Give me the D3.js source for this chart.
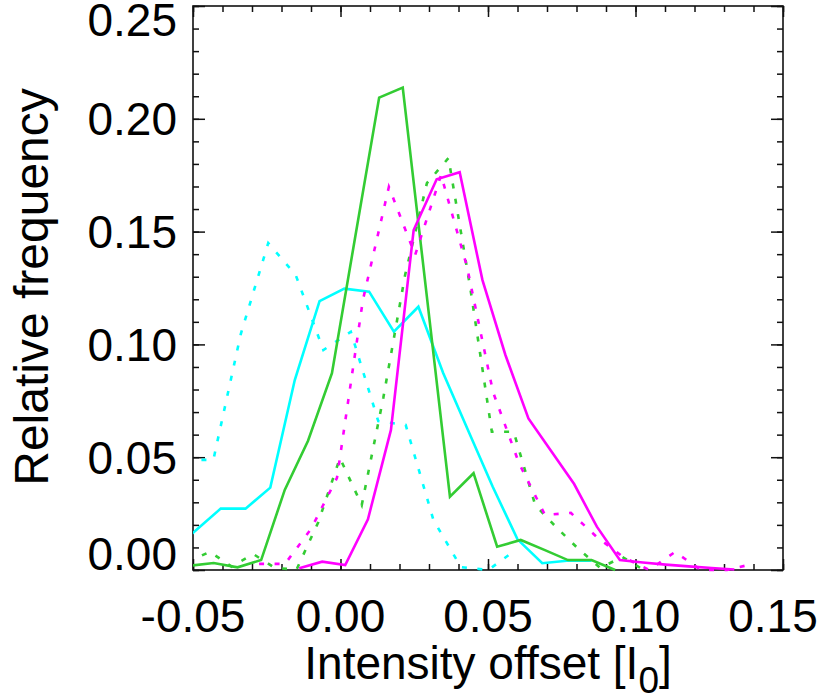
<!DOCTYPE html>
<html lang="en">
<head>
<meta charset="UTF-8">
<title>Relative frequency vs intensity offset</title>
<script src="https://cdn.jsdelivr.net/npm/d3@7"></script>
<style>
  body { margin: 0; background: #fff; }
  text { font-family: "Liberation Sans", Arial, Helvetica, sans-serif; fill: #000; }
</style>
</head>
<body>
<script>
const width = 828, height = 698;
const plotLeft = 193, plotRight = 783, plotTop = 6, plotBottom = 570;

// tick values and labels
const xTicks = [-0.05, 0.00, 0.05, 0.10, 0.15];
const xTickLabels = ["-0.05", "0.00", "0.05", "0.10", "0.15"];
const yTicks = [0.00, 0.05, 0.10, 0.15, 0.20, 0.25];
const yTickLabels = ["0.00", "0.05", "0.10", "0.15", "0.20", "0.25"];

// cyan, solid
const cyanSolidX = [-0.0574, -0.0490, -0.0406, -0.0322, -0.0238, -0.0155, -0.0071, 0.0013, 0.0097,
  0.0181, 0.0264, 0.0348, 0.0432, 0.0516, 0.0600, 0.0684, 0.0767, 0.0851];
const cyanSolidY = [0.0080, 0.0176, 0.0272, 0.0272, 0.0365, 0.0842, 0.1192, 0.1247, 0.1234,
  0.1056, 0.1167, 0.0873, 0.0621, 0.0369, 0.0136, 0.0030, 0.0041, 0.0041];

// cyan, dotted
const cyanDotX = [-0.0524, -0.0431, -0.0338, -0.0245, -0.0152, -0.0058, 0.0035, 0.0128, 0.0221,
  0.0315, 0.0408, 0.0501, 0.0594];
const cyanDotY = [0.0488, 0.0488, 0.1046, 0.1449, 0.1308, 0.0975, 0.1056, 0.0660, 0.0643,
  0.0222, 0.0013, 0.0000, 0.0089];

// green, solid
const greenSolidX = [-0.0509, -0.0430, -0.0349, -0.0269, -0.0189, -0.0110, -0.0029, 0.0051, 0.0131,
  0.0211, 0.0291, 0.0371, 0.0451, 0.0531, 0.0611, 0.0691, 0.0771, 0.0851, 0.0931];
const greenSolidY = [0.0019, 0.0031, 0.0012, 0.0044, 0.0355, 0.0573, 0.0872, 0.1485, 0.2094,
  0.2138, 0.1232, 0.0325, 0.0429, 0.0103, 0.0133, 0.0089, 0.0044, 0.0044, 0.0000];

// green, dotted
const greenDotX = [-0.0517, -0.0443, -0.0369, -0.0296, -0.0222, -0.0149, -0.0075, -0.0002, 0.0072,
  0.0145, 0.0219, 0.0293, 0.0366, 0.0440, 0.0513, 0.0587, 0.0660, 0.0734, 0.0807, 0.0881,
  0.0955, 0.1028];
const greenDotY = [0.0035, 0.0081, 0.0015, 0.0071, 0.0009, 0.0002, 0.0213, 0.0496, 0.0288,
  0.0762, 0.1308, 0.1715, 0.1826, 0.1250, 0.0613, 0.0613, 0.0288, 0.0186, 0.0093, 0.0009,
  0.0058, 0.0000];

// magenta, solid
const magentaSolidX = [-0.0140, -0.0062, 0.0016, 0.0093, 0.0171, 0.0248, 0.0326, 0.0404, 0.0481,
  0.0559, 0.0637, 0.0714, 0.0792, 0.0869, 0.0947, 0.1025, 0.1102, 0.1180, 0.1258, 0.1335];
const magentaSolidY = [0.0008, 0.0037, 0.0022, 0.0225, 0.0621, 0.1507, 0.1732, 0.1763, 0.1286,
  0.0953, 0.0672, 0.0527, 0.0381, 0.0192, 0.0044, 0.0033, 0.0024, 0.0016, 0.0009, 0.0002];

// magenta, dotted
const magentaDotX = [-0.0276, -0.0188, -0.0100, -0.0012, 0.0076, 0.0164, 0.0253, 0.0341, 0.0429,
  0.0517, 0.0605, 0.0693, 0.0781, 0.0869, 0.0958, 0.1046, 0.1134, 0.1222, 0.1310, 0.1398];
const magentaDotY = [0.0027, 0.0027, 0.0182, 0.0408, 0.1197, 0.1698, 0.1396, 0.1751, 0.1343,
  0.0789, 0.0474, 0.0244, 0.0253, 0.0146, 0.0058, 0.0000, 0.0080, 0.0000, 0.0000, 0.0027];

const cyan = "#00ffff", green = "#33cc33", magenta = "#ff00ff";

const series = [
  {x: cyanDotX, y: cyanDotY, color: cyan, dotted: true},
  {x: cyanSolidX, y: cyanSolidY, color: cyan, dotted: false},
  {x: greenDotX, y: greenDotY, color: green, dotted: true},
  {x: greenSolidX, y: greenSolidY, color: green, dotted: false},
  {x: magentaDotX, y: magentaDotY, color: magenta, dotted: true},
  {x: magentaSolidX, y: magentaSolidY, color: magenta, dotted: false}
];

const x = d3.scaleLinear().domain([-0.05, 0.15]).range([plotLeft, plotRight]);
const y = d3.scaleLinear().domain([0, 0.25]).range([plotBottom, plotTop]);

const svg = d3.select("body").append("svg")
    .attr("width", width)
    .attr("height", height);

// axis box with inward ticks on all four sides
const xMinor = d3.range(-0.05, 0.1501, 0.01);
const yMinor = d3.range(0, 0.2501, 0.01);
const axisColor = "#111";

function ticks(axis, g) {
  g.call(axis);
  g.select(".domain").remove();
  g.selectAll("line").attr("stroke", axisColor).attr("stroke-width", 1.5);
}
svg.append("g").attr("transform", `translate(0,${plotBottom})`)
  .call(g => ticks(d3.axisBottom(x).tickValues(xMinor).tickSize(-6).tickFormat(""), g));
svg.append("g").attr("transform", `translate(0,${plotBottom})`)
  .call(g => ticks(d3.axisBottom(x).tickValues(xTicks).tickSize(-11).tickFormat(""), g));
svg.append("g").attr("transform", `translate(0,${plotTop})`)
  .call(g => ticks(d3.axisTop(x).tickValues(xMinor).tickSize(-6).tickFormat(""), g));
svg.append("g").attr("transform", `translate(0,${plotTop})`)
  .call(g => ticks(d3.axisTop(x).tickValues(xTicks).tickSize(-11).tickFormat(""), g));
svg.append("g").attr("transform", `translate(${plotLeft},0)`)
  .call(g => ticks(d3.axisLeft(y).tickValues(yMinor).tickSize(-6).tickFormat(""), g));
svg.append("g").attr("transform", `translate(${plotLeft},0)`)
  .call(g => ticks(d3.axisLeft(y).tickValues(yTicks).tickSize(-12).tickFormat(""), g));
svg.append("g").attr("transform", `translate(${plotRight},0)`)
  .call(g => ticks(d3.axisRight(y).tickValues(yMinor).tickSize(-6).tickFormat(""), g));
svg.append("g").attr("transform", `translate(${plotRight},0)`)
  .call(g => ticks(d3.axisRight(y).tickValues(yTicks).tickSize(-12).tickFormat(""), g));

svg.append("rect")
  .attr("x", plotLeft).attr("y", plotTop)
  .attr("width", plotRight - plotLeft).attr("height", plotBottom - plotTop)
  .attr("fill", "none").attr("stroke", axisColor).attr("stroke-width", 1.6);

// tick labels
svg.append("g").selectAll("text").data(xTicks).join("text")
  .attr("x", d => Math.min(x(d), width - 55))
  .attr("y", 632)
  .attr("text-anchor", "middle")
  .attr("font-size", 46)
  .text((d, i) => xTickLabels[i]);

svg.append("g").selectAll("text").data(yTicks).join("text")
  .attr("x", 177)
  .attr("y", d => Math.max(36, Math.min(plotBottom, y(d) + 16.4)))
  .attr("text-anchor", "end")
  .attr("font-size", 46)
  .text((d, i) => yTickLabels[i]);

// axis titles
const xt = svg.append("text")
  .attr("x", (plotLeft + plotRight) / 2).attr("y", 679)
  .attr("text-anchor", "middle")
  .attr("font-size", 46);
xt.append("tspan").text("Intensity offset [I");
xt.append("tspan").attr("font-size", 37).attr("dy", 14).text("0");
xt.append("tspan").attr("dy", -14).text("]");

svg.append("text")
  .attr("transform", `translate(48,287) rotate(-90)`)
  .attr("text-anchor", "middle")
  .attr("font-size", 48)
  .text("Relative frequency");

// histogram curves
svg.append("clipPath").attr("id", "plot-clip")
  .append("rect")
  .attr("x", plotLeft).attr("y", plotTop - 2)
  .attr("width", plotRight - plotLeft).attr("height", plotBottom - plotTop + 4);

const line = d3.line()
  .x(d => x(d[0]))
  .y(d => y(d[1]));

svg.append("g").attr("clip-path", "url(#plot-clip)")
  .selectAll("path").data(series).join("path")
  .attr("d", s => line(s.x.map((v, i) => [v, s.y[i]])))
  .attr("fill", "none")
  .attr("stroke", s => s.color)
  .attr("stroke-width", 2.6)
  .attr("stroke-linejoin", "miter")
  .attr("stroke-dasharray", s => s.dotted ? "5,10.5" : null);
</script>
</body>
</html>
